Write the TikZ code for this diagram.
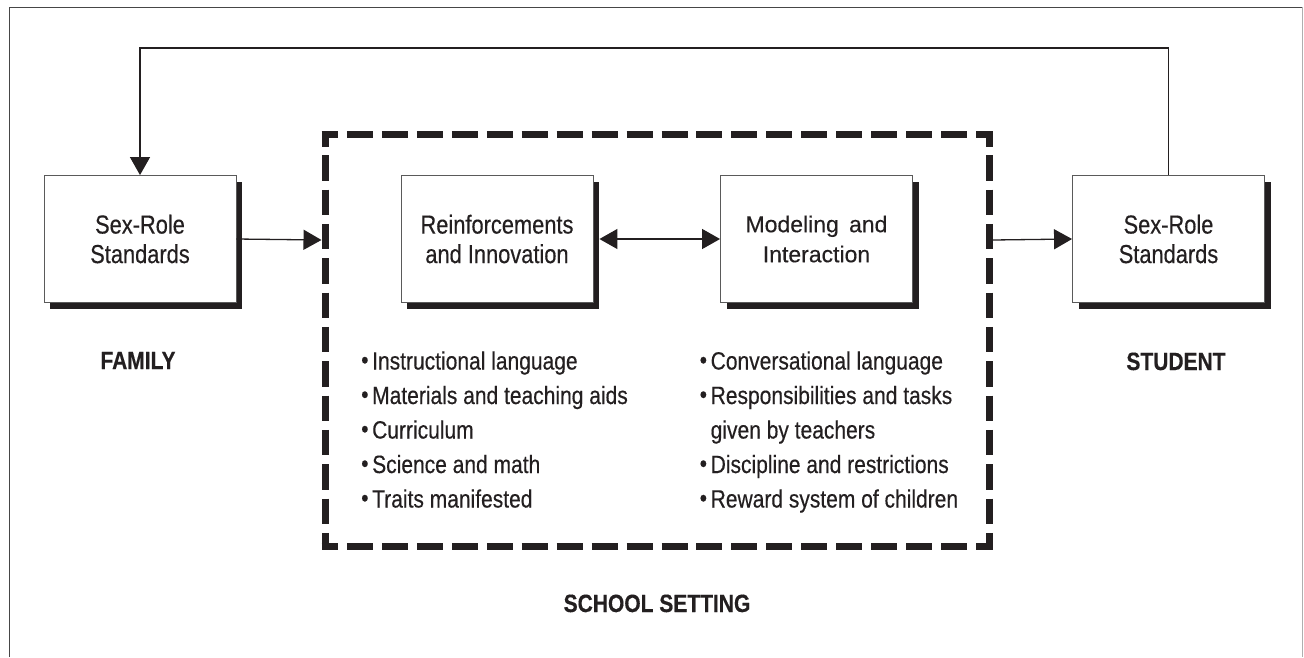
\documentclass[tikz,border=0pt]{standalone}
\usepackage{fontspec}
\setmainfont{Liberation Sans}[FakeStretch=0.84, FakeBold=0.35]
\newfontfamily\widefont{Liberation Sans}[WordSpace=1.6, FakeBold=0.35]
\usetikzlibrary{arrows.meta,shadows}
\definecolor{ink}{RGB}{35,31,32}
\definecolor{framec}{RGB}{70,70,70}
\definecolor{framer}{RGB}{175,175,175}
\definecolor{boxline}{RGB}{90,90,90}
\newcommand{\bul}{\makebox[11pt][l]{\raisebox{1pt}{•}}}
\begin{document}
\begin{tikzpicture}[x=1pt,y=-1pt,
  box/.style={draw=boxline, line width=0.9pt, fill=white, minimum width=192pt,
    minimum height=127pt, align=center, inner sep=0pt, text=ink,
    font=\fontsize{26}{29.5}\selectfont,
    drop shadow={shadow xshift=6pt, shadow yshift=-6pt, fill=ink, opacity=1}},
  conn/.style={draw=ink, line width=1.3pt},
  tip/.style={-{Triangle[length=18pt,width=20pt]}},
  item/.style={anchor=base west, inner sep=0pt, text=ink, font=\fontsize{25}{30}\selectfont},
  label/.style={anchor=base, inner sep=0pt, text=ink, font=\fontsize{25}{30}\selectfont\bfseries},
  dashH/.style={draw=ink, line width=7pt, dash pattern=on 26pt off 8.95pt, dash phase=9.5pt},
  dashV/.style={draw=ink, line width=7pt, dash pattern=on 25.5pt off 8.83pt, dash phase=13pt}
]
\useasboundingbox (0,0) rectangle (1304,657);
% outer frame
\draw[framec, line width=1pt] (9,657) -- (9,7) -- (1302,7);
\draw[framer, line width=1pt] (1302,7) -- (1302,657);

% dashed school setting box
\draw[dashH] (321.5,134) -- (992.5,134);
\draw[dashH] (321.5,546) -- (992.5,546);
\draw[dashV] (325,134) -- (325,546);
\draw[dashV] (989,134) -- (989,546);
\coordinate (dl) at (321.5,240);
\coordinate (dr) at (992.5,240);

% boxes
\node[box] (L) at (140,239) {Sex-Role\\Standards};
\node[box] (Rf) at (497,239) {Reinforcements\\and Innovation};
\node[box, font=\widefont\fontsize{23}{30}\selectfont] (M) at (816.5,239) {Modeling and\\Interaction};
\node[box] (R) at (1168.5,239) {Sex-Role\\Standards};

% connectors
\draw[conn,tip] (L.east) -- (dl);
\draw[conn,tip] (dr) -- (R.west);
\draw[conn,{Triangle[length=18pt,width=20pt]}-{Triangle[length=18pt,width=20pt]}] ([xshift=6pt]Rf.east) -- (M.west);
\coordinate (top) at (0,48);
\draw[conn,tip] (R.north) -- (R.north |- top) -| (L.north);

% labels
\node[label] (fam) at (138,369) {FAMILY};
\node[label] (stu) at (1176,370) {STUDENT};
\node[label] (sch) at (657,612) {SCHOOL SETTING};

% left list
\node[item] (a1) at (361,369.5) {\bul Instructional language};
\node[item] (a2) at (361,404) {\bul Materials and teaching aids};
\node[item] (a3) at (361,438.5) {\bul Curriculum};
\node[item] (a4) at (361,473) {\bul Science and math};
\node[item] (a5) at (361,507.5) {\bul Traits manifested};

% right list
\node[item] (b1) at (699.5,369.5) {\bul Conversational language};
\node[item] (b2) at (699.5,404) {\bul Responsibilities and tasks};
\node[item] (b3) at (699.5,438.5) {\makebox[11pt]{}given by teachers};
\node[item] (b4) at (699.5,473) {\bul Discipline and restrictions};
\node[item] (b5) at (699.5,507.5) {\bul Reward system of children};
\end{tikzpicture}
\end{document}
